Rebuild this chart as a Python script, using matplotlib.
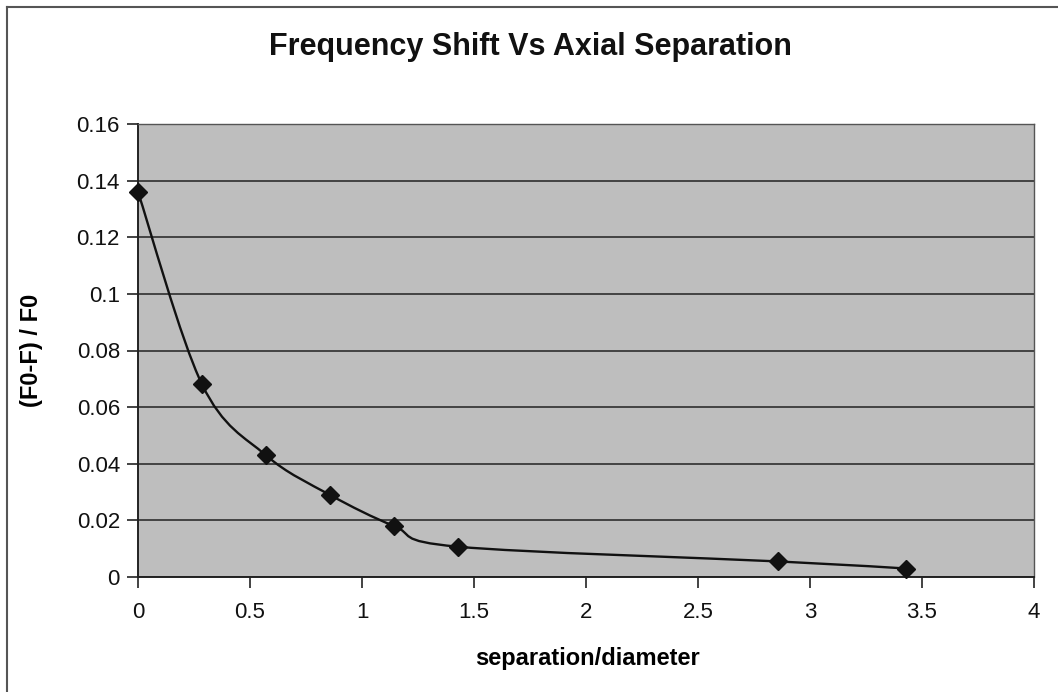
import numpy as np
import matplotlib
matplotlib.use("Agg")
import matplotlib.pyplot as plt
from matplotlib.path import Path
from matplotlib.patches import PathPatch
from matplotlib.lines import Line2D

plt.rcParams["font.family"] = ["Liberation Sans", "DejaVu Sans"]

# --- data ------------------------------------------------------------
sep_diam = [0.0, 0.286, 0.571, 0.857, 1.143, 1.429, 2.857, 3.429]
freq_shift = [0.136, 0.068, 0.043, 0.029, 0.018, 0.0107, 0.0055, 0.003]
x_ticks = [0, 0.5, 1, 1.5, 2, 2.5, 3, 3.5, 4]
x_tick_labels = ["0", "0.5", "1", "1.5", "2", "2.5", "3", "3.5", "4"]
y_ticks = [0, 0.02, 0.04, 0.06, 0.08, 0.10, 0.12, 0.14, 0.16]
y_tick_labels = ["0", "0.02", "0.04", "0.06", "0.08", "0.1", "0.12", "0.14", "0.16"]


def smooth_path(xs, ys, ax):
    """Excel-style smoothed line: cubic Bezier segments through the points,
    control points built in screen space (Catmull-Rom, tension 1/6)."""
    pts = ax.transData.transform(np.column_stack([xs, ys]))
    n = len(pts)
    verts = [pts[0]]
    codes = [Path.MOVETO]
    for i in range(n - 1):
        p0 = pts[i - 1] if i > 0 else pts[i]
        p1, p2 = pts[i], pts[i + 1]
        p3 = pts[i + 2] if i + 2 < n else pts[i + 1]
        c1 = p1 + (p2 - p0) / 6.0
        c2 = p2 - (p3 - p1) / 6.0
        verts += [c1, c2, p2]
        codes += [Path.CURVE4] * 3
    verts = ax.transData.inverted().transform(np.array(verts))
    return Path(verts, codes)


fig = plt.figure(figsize=(10.58, 6.92), dpi=100, facecolor="white")
ax = fig.add_axes([138 / 1058, 1 - 577 / 692, (1034 - 138) / 1058, (577 - 124) / 692])
ax.set_facecolor("#bebebe")
ax.set_xlim(0, 4)
ax.set_ylim(0, 0.16)

ax.set_xticks(x_ticks)
ax.set_xticklabels(x_tick_labels)
ax.set_yticks(y_ticks)
ax.set_yticklabels(y_tick_labels)
ax.tick_params(axis="both", direction="out", length=8, width=1.2, color="#222222",
               labelsize=16, labelcolor="#111111")
ax.tick_params(axis="x", pad=10)
ax.tick_params(axis="y", pad=5)

ax.yaxis.grid(True, color="#222222", linewidth=1.1)
ax.set_axisbelow(True)
for side in ["left", "bottom"]:
    ax.spines[side].set_color("#222222")
    ax.spines[side].set_linewidth(1.4)
for side in ["top", "right"]:
    ax.spines[side].set_color("#555555")
    ax.spines[side].set_linewidth(1.0)

# smoothed line + diamond markers
fig.canvas.draw()
ax.add_patch(PathPatch(smooth_path(sep_diam, freq_shift, ax), facecolor="none",
                       edgecolor="#111111", linewidth=1.7, zorder=3))
ax.plot(sep_diam, freq_shift, linestyle="none", marker="D", markersize=9.5,
        color="#111111", zorder=4, clip_on=False)

ax.set_xlabel("separation/diameter", fontsize=17, fontweight="bold")
ax.xaxis.set_label_coords((587 - 138) / 896, -(647 - 577) / 453)
ax.set_ylabel("(F0-F) / F0", fontsize=17, fontweight="bold")
ax.yaxis.set_label_coords(-(138 - 43) / 896, 0.5 + (350.5 - 350) / 453)
fig.text(530 / 1058, 1 - 47 / 692, "Frequency Shift Vs Axial Separation",
         ha="center", va="center", fontsize=22, fontweight="bold", color="#111111")

# outer chart frame (only top and left edges visible in the reference)
fig.add_artist(Line2D([7 / 1058, 1.0], [1 - 7 / 692, 1 - 7 / 692],
                      transform=fig.transFigure, color="#555555", linewidth=1.5))
fig.add_artist(Line2D([7 / 1058, 7 / 1058], [0.0, 1 - 7 / 692],
                      transform=fig.transFigure, color="#555555", linewidth=1.5))

fig.savefig("out.png", dpi=100, facecolor="white")
